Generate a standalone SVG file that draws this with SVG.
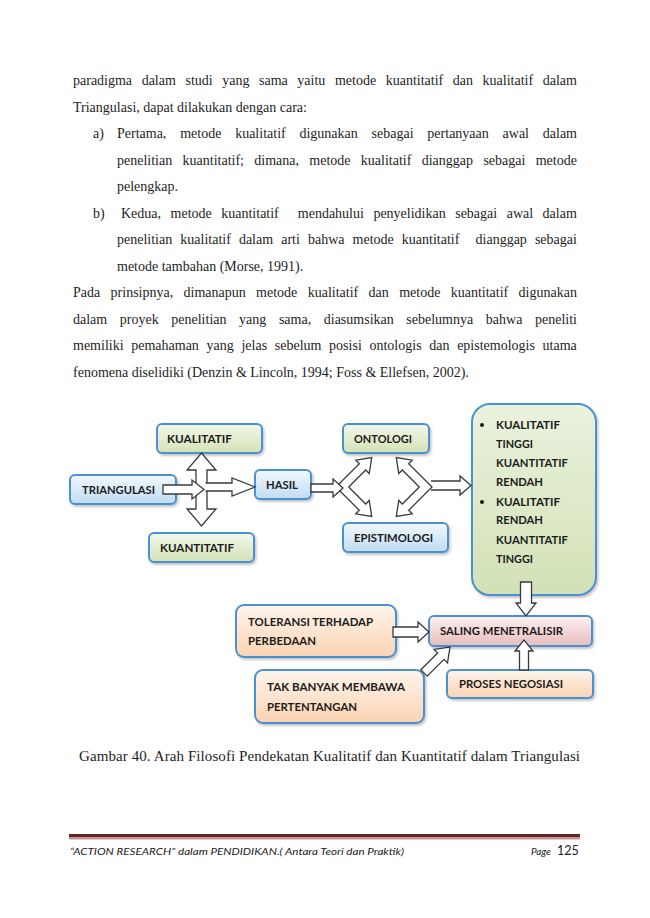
<svg xmlns="http://www.w3.org/2000/svg" width="650" height="918" viewBox="0 0 650 918">
<defs>
<linearGradient id="gGreen" x1="0" y1="0" x2="0" y2="1"><stop offset="0" stop-color="#f4f8ec"/><stop offset="1" stop-color="#d3e2b5"/></linearGradient>
<linearGradient id="gBlue" x1="0" y1="0" x2="0" y2="1"><stop offset="0" stop-color="#f2f8fd"/><stop offset="1" stop-color="#bfdcf1"/></linearGradient>
<linearGradient id="gBig" x1="0" y1="0" x2="0" y2="1"><stop offset="0" stop-color="#eaf2dd"/><stop offset="1" stop-color="#d2e1b6"/></linearGradient>
<linearGradient id="gOrange" x1="0" y1="0" x2="0" y2="1"><stop offset="0" stop-color="#fef5ec"/><stop offset="1" stop-color="#fbd3b2"/></linearGradient>
<linearGradient id="gPink" x1="0" y1="0" x2="0" y2="1"><stop offset="0" stop-color="#fbf1f1"/><stop offset="1" stop-color="#e7bcbb"/></linearGradient>
<filter id="sh" x="-10%" y="-10%" width="125%" height="130%"><feDropShadow dx="1.5" dy="2" stdDeviation="1.2" flood-color="#808080" flood-opacity="0.45"/></filter>
</defs>
<style>
.box{stroke:#4a91d2;stroke-width:2;filter:url(#sh)}
.lbl{font-family:Lato,"Open Sans","Liberation Sans",sans-serif;font-weight:700;font-size:11.5px;fill:#1c1c1c}
.txt{font-family:"Liberation Serif","Times New Roman",serif;font-size:14px;fill:#1e1e1e}
.arr{fill:#fff;stroke:#3a3a3a;stroke-width:1.3;stroke-linejoin:miter}
.ft{font-family:Lato,"Open Sans",sans-serif;font-style:italic;font-size:10px;fill:#222}
</style>
<rect width="650" height="918" fill="#fff"/>

<g id="body-text">
<text class="txt" x="73" y="85" word-spacing="6.07">paradigma dalam studi yang sama yaitu metode kuantitatif dan kualitatif dalam</text>
<text class="txt" x="73" y="111.5">Triangulasi, dapat dilakukan dengan cara:</text>
<text class="txt" x="93" y="138">a)</text>
<text class="txt" x="117" y="138" word-spacing="10.29">Pertama, metode kualitatif digunakan sebagai pertanyaan awal dalam</text>
<text class="txt" x="117" y="164.5" word-spacing="6.83">penelitian kuantitatif; dimana, metode kualitatif dianggap sebagai metode</text>
<text class="txt" x="117" y="191">pelengkap.</text>
<text class="txt" x="93" y="217.5">b)</text>
<text class="txt" x="121" y="217.5" word-spacing="6.0" xml:space="preserve">Kedua, metode kuantitatif  mendahului penyelidikan sebagai awal dalam</text>
<text class="txt" x="117" y="244" word-spacing="4.58" xml:space="preserve">penelitian kualitatif dalam arti bahwa metode kuantitatif  dianggap sebagai</text>
<text class="txt" x="117" y="270.5">metode tambahan (Morse, 1991).</text>
<text class="txt" x="73" y="297" word-spacing="6.86">Pada prinsipnya, dimanapun metode kualitatif dan metode kuantitatif digunakan</text>
<text class="txt" x="73" y="323.5" word-spacing="9.1">dalam proyek penelitian yang sama, diasumsikan sebelumnya bahwa peneliti</text>
<text class="txt" x="73" y="350" word-spacing="4.18">memiliki pemahaman yang jelas sebelum posisi ontologis dan epistemologis utama</text>
<text class="txt" x="73" y="376.5">fenomena diselidiki (Denzin &amp; Lincoln, 1994; Foss &amp; Ellefsen, 2002).</text>
</g>

<g id="node-kualitatif"><rect class="box" x="157" y="424" width="105" height="29" rx="5" fill="url(#gGreen)"/><text class="lbl" x="167" y="443" textLength="65" lengthAdjust="spacingAndGlyphs">KUALITATIF</text></g>
<g id="node-triangulasi"><rect class="box" x="70" y="475" width="106" height="29" rx="5" fill="url(#gBlue)"/><text class="lbl" x="82" y="494" textLength="73" lengthAdjust="spacingAndGlyphs">TRIANGULASI</text></g>
<g id="node-hasil"><rect class="box" x="255" y="470" width="56" height="29" rx="5" fill="url(#gBlue)"/><text class="lbl" x="266" y="489" textLength="32" lengthAdjust="spacingAndGlyphs">HASIL</text></g>
<g id="node-kuantitatif"><rect class="box" x="149" y="533" width="105" height="29" rx="5" fill="url(#gGreen)"/><text class="lbl" x="160" y="552" textLength="74" lengthAdjust="spacingAndGlyphs">KUANTITATIF</text></g>
<g id="node-ontologi"><rect class="box" x="343" y="424" width="86" height="29" rx="5" fill="url(#gGreen)"/><text class="lbl" x="354" y="443" textLength="58" lengthAdjust="spacingAndGlyphs">ONTOLOGI</text></g>
<g id="node-epistimologi"><rect class="box" x="343" y="523" width="105" height="29" rx="5" fill="url(#gBlue)"/><text class="lbl" x="354" y="542" textLength="79" lengthAdjust="spacingAndGlyphs">EPISTIMOLOGI</text></g>
<g id="node-hasil-list"><rect class="box" x="472" y="404" width="124" height="191" rx="18" fill="url(#gBig)"/>
<circle cx="482" cy="425" r="2" fill="#1c1c1c"/><circle cx="482" cy="502" r="2" fill="#1c1c1c"/>
<text class="lbl" x="496" y="429" textLength="64" lengthAdjust="spacingAndGlyphs">KUALITATIF</text>
<text class="lbl" x="496" y="448" textLength="37" lengthAdjust="spacingAndGlyphs">TINGGI</text>
<text class="lbl" x="496" y="467" textLength="72" lengthAdjust="spacingAndGlyphs">KUANTITATIF</text>
<text class="lbl" x="496" y="486" textLength="47" lengthAdjust="spacingAndGlyphs">RENDAH</text>
<text class="lbl" x="496" y="506" textLength="64" lengthAdjust="spacingAndGlyphs">KUALITATIF</text>
<text class="lbl" x="496" y="524" textLength="47" lengthAdjust="spacingAndGlyphs">RENDAH</text>
<text class="lbl" x="496" y="544" textLength="72" lengthAdjust="spacingAndGlyphs">KUANTITATIF</text>
<text class="lbl" x="496" y="563" textLength="37" lengthAdjust="spacingAndGlyphs">TINGGI</text>
</g>
<g id="node-toleransi"><rect class="box" x="236" y="605" width="160" height="52" rx="8" fill="url(#gOrange)"/><text class="lbl" x="248" y="626" textLength="125" lengthAdjust="spacingAndGlyphs">TOLERANSI TERHADAP</text><text class="lbl" x="248" y="645" textLength="68" lengthAdjust="spacingAndGlyphs">PERBEDAAN</text></g>
<g id="node-saling"><rect class="box" x="429" y="616" width="163" height="30" rx="5" fill="url(#gPink)"/><text class="lbl" x="440" y="635" textLength="123" lengthAdjust="spacingAndGlyphs">SALING MENETRALISIR</text></g>
<g id="node-takbanyak"><rect class="box" x="255" y="670" width="169" height="53" rx="8" fill="url(#gOrange)"/><text class="lbl" x="267" y="691" textLength="138" lengthAdjust="spacingAndGlyphs">TAK BANYAK MEMBAWA</text><text class="lbl" x="267" y="711" textLength="90" lengthAdjust="spacingAndGlyphs">PERTENTANGAN</text></g>
<g id="node-proses"><rect class="box" x="447" y="670" width="146" height="28" rx="5" fill="url(#gOrange)"/><text class="lbl" x="459" y="688" textLength="104" lengthAdjust="spacingAndGlyphs">PROSES NEGOSIASI</text></g>

<g id="connectors">
<polygon class="arr" points="201.5,453 216,470 207,470 207,509 216,509 201.5,526 187,509 196,509 196,470 187,470"/>
<path class="arr" d="M205.5,483 H232 V478 L255,487 L232,496 V491 H205.5"/>
<polygon class="arr" points="163,485 192,485 192,480 204,489.5 192,499 192,494 163,494"/>
<polygon class="arr" points="336,487 359.33,463.67 355.79,460.13 371.71,457.65 369.23,473.57 365.69,470.03 348.73,487 365.69,503.97 369.23,500.43 371.71,516.35 355.79,513.87 359.33,510.33"/>
<polygon class="arr" points="311,484 333,484 333,479 343,488 333,497 333,492 311,492"/>
<path class="arr" d="M431,481 H460 V476 L471,485.5 L460,495 V490 H431"/>
<polygon class="arr" points="432,487 408.67,463.67 412.21,460.13 396.29,457.65 398.77,473.57 402.31,470.03 419.27,487 402.31,503.97 398.77,500.43 396.29,516.35 412.21,513.87 408.67,510.33"/>
<polygon class="arr" points="520.5,582 531.5,582 531.5,603 536,603 526,616 516,603 520.5,603"/>
<polygon class="arr" points="519.5,670 519.5,651 515,651 524,640 533,651 528.5,651 528.5,670"/>
<polygon class="arr" points="393,627 418,627 418,622 429,632 418,642 418,637 393,637"/>
<polygon class="arr" points="420.82,669.82 437.63,653.01 434.09,649.47 450,647 447.53,662.91 443.99,659.37 427.18,676.18"/>
</g>

<g id="caption"><text class="txt" x="79" y="761" style="font-size:15px" textLength="501" lengthAdjust="spacing">Gambar 40. Arah Filosofi Pendekatan Kualitatif dan Kuantitatif dalam Triangulasi</text></g>

<g id="footer">
<rect x="69" y="834" width="511" height="3.5" fill="#642422"/>
<rect x="69" y="837.5" width="511" height="2" fill="#c59b9a"/>
<text class="ft" x="70" y="855" textLength="334" lengthAdjust="spacingAndGlyphs">“ACTION RESEARCH” dalam PENDIDIKAN.( Antara Teori dan Praktik)</text>
<text class="ft" x="531" y="855">Page</text>
<text x="557" y="855" font-family="Lato,'Open Sans',sans-serif" font-size="12.5" fill="#222">125</text>
</g>
</svg>
